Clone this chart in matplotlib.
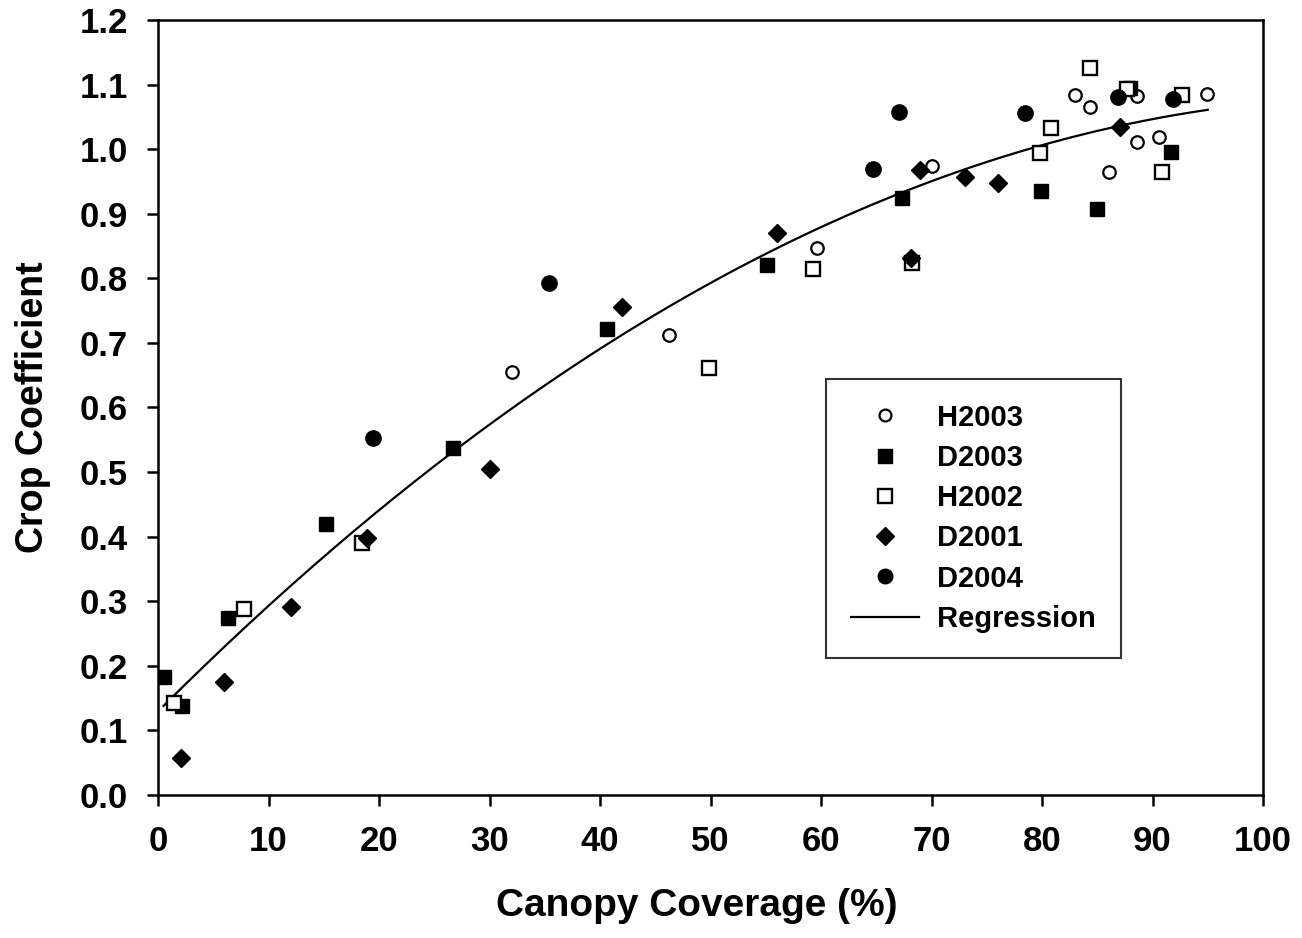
import numpy as np
import matplotlib
matplotlib.use("Agg")
import matplotlib.pyplot as plt

plt.rcParams['font.family'] = ['Liberation Sans', 'DejaVu Sans']
plt.rcParams['font.weight'] = 'bold'

# ---- data ----
h2003_x = [32.0, 46.2, 59.6, 70.0, 83.0, 84.3, 86.1, 88.6, 88.6, 90.6, 94.9]
h2003_y = [0.655, 0.712, 0.847, 0.974, 1.084, 1.066, 0.965, 1.082, 1.011, 1.019, 1.085]

d2003_x = [0.5, 2.2, 6.3, 15.2, 26.7, 40.6, 55.1, 67.3, 79.9, 85.0, 88.0, 91.7]
d2003_y = [0.183, 0.138, 0.274, 0.419, 0.537, 0.722, 0.821, 0.924, 0.935, 0.907, 1.095, 0.996]

h2002_x = [1.45, 7.8, 18.5, 49.9, 59.3, 68.2, 79.8, 80.8, 84.3, 87.7, 92.7, 90.9]
h2002_y = [0.142, 0.288, 0.390, 0.661, 0.814, 0.824, 0.994, 1.033, 1.126, 1.093, 1.084, 0.965]

d2001_x = [2.1, 6.0, 12.0, 18.9, 30.0, 42.0, 56.0, 68.1, 69.0, 73.0, 76.0, 87.1]
d2001_y = [0.058, 0.175, 0.291, 0.398, 0.505, 0.756, 0.870, 0.832, 0.968, 0.957, 0.948, 1.034]

d2004_x = [19.5, 35.4, 64.7, 67.1, 78.5, 86.9, 91.9]
d2004_y = [0.552, 0.793, 0.969, 1.058, 1.056, 1.081, 1.078]

# regression (quadratic) coefficients and range
reg_coef = [0.1295, 0.01711, -7.69e-5]
reg_range = [0.5, 95.0]

x_ticks = [0, 10, 20, 30, 40, 50, 60, 70, 80, 90, 100]
y_ticks = [0.0, 0.1, 0.2, 0.3, 0.4, 0.5, 0.6, 0.7, 0.8, 0.9, 1.0, 1.1, 1.2]

# ---- figure ----
fig = plt.figure(figsize=(13.02, 9.38), dpi=100)
ax = fig.add_axes([158/1302, 1-795/938, (1263-158)/1302, (795-20)/938])

xr = np.linspace(reg_range[0], reg_range[1], 200)
yr = reg_coef[0] + reg_coef[1]*xr + reg_coef[2]*xr**2

ax.plot(h2003_x, h2003_y, linestyle='none', marker='o', ms=9.0, mfc='white', mec='black', mew=1.6, label='H2003', zorder=3)
ax.plot(d2003_x, d2003_y, linestyle='none', marker='s', ms=10.5, mfc='black', mec='black', mew=1.0, label='D2003', zorder=3)
ax.plot(h2002_x, h2002_y, linestyle='none', marker='s', ms=10.0, mfc='white', mec='black', mew=1.7, label='H2002', zorder=3)
ax.plot(d2001_x, d2001_y, linestyle='none', marker='D', ms=9.2, mfc='black', mec='black', mew=1.0, label='D2001', zorder=3)
ax.plot(d2004_x, d2004_y, linestyle='none', marker='o', ms=11.0, mfc='black', mec='black', mew=1.0, label='D2004', zorder=3)
ax.plot(xr, yr, color='black', lw=1.6, label='Regression', zorder=2)

ax.set_xlim(0, 100)
ax.set_ylim(0, 1.2)
ax.set_xticks(x_ticks)
ax.set_yticks(y_ticks)
ax.set_xticklabels([str(v) for v in x_ticks])
ax.set_yticklabels([f"{v:.1f}" for v in y_ticks])

for s in ax.spines.values():
    s.set_linewidth(1.8)
ax.tick_params(axis='both', direction='out', length=8, width=1.8, labelsize=25, pad=13.5)
for lab in ax.get_xticklabels() + ax.get_yticklabels():
    lab.set_fontweight('bold')

ax.set_xlabel('Canopy Coverage (%)', fontsize=28, fontweight='bold', labelpad=21.5)
ax.xaxis.label.set_x((697 - 158) / 1105)
ax.set_ylabel('Crop Coefficient', fontsize=27, fontweight='bold', labelpad=21)

leg = ax.legend(loc='upper left', bbox_to_anchor=(0.6045, 0.537), borderaxespad=0.0,
                frameon=True, fancybox=False, edgecolor='black',
                handlelength=2.35, handletextpad=0.62, labelspacing=0.42, borderpad=0.85,
                markerscale=0.95, prop={'weight': 'bold', 'size': 21})
leg.get_frame().set_linewidth(1.5)

fig.savefig('out.png', dpi=100, facecolor='white')
